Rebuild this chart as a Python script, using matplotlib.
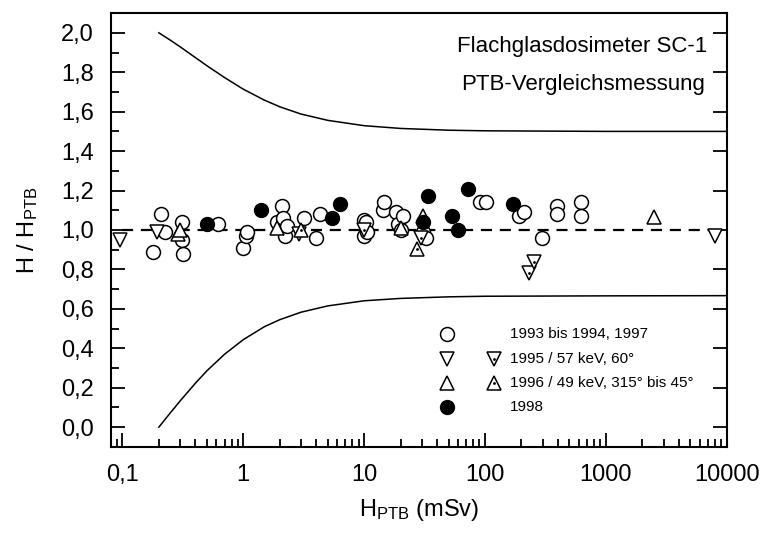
import matplotlib
matplotlib.use('Agg')
import matplotlib.pyplot as plt
from matplotlib.ticker import FixedLocator, MultipleLocator, FuncFormatter, LogLocator, NullFormatter

plt.rcParams['font.family'] = ['Liberation Sans', 'DejaVu Sans']
plt.rcParams['mathtext.fontset'] = 'custom'
plt.rcParams['mathtext.rm'] = 'Liberation Sans'
plt.rcParams['mathtext.default'] = 'regular'

# open circles: 1993 bis 1994, 1997
circ_x = [0.18, 0.21, 0.225, 0.31, 0.31, 0.32, 0.62, 1.0, 1.05, 1.07, 1.9, 2.1, 2.15, 2.2, 2.3,
          3.2, 4.0, 4.35, 10.0, 10.0, 10.3, 10.5, 14.3, 14.7, 18.4, 18.9, 20.8, 20.0, 30.5, 32.5,
          91, 101, 191, 210, 294, 395, 395, 617, 617]
circ_y = [0.89, 1.08, 0.99, 1.04, 0.95, 0.88, 1.03, 0.91, 0.97, 0.99, 1.04, 1.12, 1.06, 0.97, 1.02,
          1.06, 0.96, 1.08, 1.05, 0.97, 1.04, 0.99, 1.10, 1.14, 1.09, 1.03, 1.07, 1.00, 0.99, 0.96,
          1.14, 1.14, 1.07, 1.09, 0.96, 1.12, 1.08, 1.14, 1.07]

# 1995 / 57 keV, 60 deg (plain and dotted down triangles)
down_x = [0.095, 0.195, 8000]
down_y = [0.95, 0.99, 0.97]
down_dot_x = [2.9, 10.0, 29.5, 230, 254]
down_dot_y = [0.98, 1.00, 0.96, 0.78, 0.84]

# 1996 / 49 keV, 315 bis 45 deg (plain and dotted up triangles)
up_x = [0.29, 0.30, 1.9, 20.2, 2500]
up_y = [0.98, 1.00, 1.01, 1.01, 1.065]
up_dot_x = [3.0, 27.4, 30.5]
up_dot_y = [1.00, 0.905, 1.07]

# 1998 (filled circles)
fill_x = [0.5, 1.4, 5.4, 6.3, 30.5, 34, 53, 60, 72, 170]
fill_y = [1.03, 1.10, 1.06, 1.13, 1.04, 1.17, 1.07, 1.00, 1.21, 1.13]

# limit curves
lim_x = [0.2, 0.25, 0.3, 0.4, 0.5, 0.7, 1, 1.5, 2, 3, 5, 10, 20, 50, 100, 1000, 10000]
upper_y = [2.0, 1.962, 1.929, 1.875, 1.833, 1.773, 1.714, 1.658, 1.625, 1.588, 1.556, 1.529,
           1.515, 1.506, 1.503, 1.500, 1.500]
lower_y = [0.0, 0.074, 0.133, 0.222, 0.286, 0.370, 0.444, 0.510, 0.545, 0.583, 0.615, 0.641,
           0.653, 0.661, 0.664, 0.666, 0.667]
ref_x = [0.1, 10000]
ref_y = [1.0, 1.0]

fig = plt.figure(figsize=(7.69, 5.45), dpi=100)
ax = fig.add_axes([0.144, 0.180, 0.801, 0.796])

ax.plot(lim_x, upper_y, color='black', lw=1.1)
ax.plot(lim_x, lower_y, color='black', lw=1.1)
ax.plot(ref_x, ref_y, color='black', lw=1.6, dashes=(5, 3.5))

ms = 10
mew = 1.1
open_kw = dict(ls='none', mfc='white', mec='black', mew=mew, ms=ms)
ax.plot(circ_x, circ_y, marker='o', **open_kw)
ax.plot(down_x, down_y, marker='v', **open_kw)
ax.plot(down_dot_x, down_dot_y, marker='v', **open_kw)
ax.plot(down_dot_x, down_dot_y, marker='.', ls='none', color='black', ms=2)
ax.plot(up_x, up_y, marker='^', **open_kw)
ax.plot(up_dot_x, up_dot_y, marker='^', **open_kw)
ax.plot(up_dot_x, up_dot_y, marker='.', ls='none', color='black', ms=2)
ax.plot(fill_x, fill_y, marker='o', ls='none', color='black', ms=ms)

# legend drawn by hand
tr = ax.transAxes
c1, c2, tx = 0.546, 0.622, 0.648
rows = [0.26, 0.203, 0.147, 0.092]
labels = ['1993 bis 1994, 1997', '1995 / 57 keV, 60°', '1996 / 49 keV, 315° bis 45°', '1998']
ax.plot([c1], [rows[0]], marker='o', transform=tr, **open_kw)
ax.plot([c1], [rows[1]], marker='v', transform=tr, **open_kw)
ax.plot([c2], [rows[1]], marker='v', transform=tr, **open_kw)
ax.plot([c2], [rows[1]], marker='.', color='black', ms=2, transform=tr)
ax.plot([c1], [rows[2]], marker='^', transform=tr, **open_kw)
ax.plot([c2], [rows[2]], marker='^', transform=tr, **open_kw)
ax.plot([c2], [rows[2]], marker='.', color='black', ms=2, transform=tr)
ax.plot([c1], [rows[3]], marker='o', ls='none', color='black', ms=ms, transform=tr)
for r, lab in zip(rows, labels):
    ax.text(tx, r, lab, transform=tr, fontsize=11, va='center', ha='left')

ax.text(0.766, 0.924, 'Flachglasdosimeter SC-1', transform=tr, fontsize=16, ha='center', va='center')
ax.text(0.766, 0.836, 'PTB-Vergleichsmessung', transform=tr, fontsize=16, ha='center', va='center')

ax.set_xscale('log')
ax.set_xlim(0.08, 10000)
ax.set_ylim(-0.1, 2.1)

ax.xaxis.set_major_locator(FixedLocator([0.1, 1, 10, 100, 1000, 10000]))
ax.xaxis.set_major_formatter(FuncFormatter(lambda v, p: '0,1' if v < 0.5 else '%d' % v))
ax.xaxis.set_minor_locator(LogLocator(base=10, subs=range(2, 10), numticks=20))
ax.xaxis.set_minor_formatter(NullFormatter())
ax.yaxis.set_major_locator(FixedLocator([0.0, 0.2, 0.4, 0.6, 0.8, 1.0, 1.2, 1.4, 1.6, 1.8, 2.0]))
ax.yaxis.set_minor_locator(MultipleLocator(0.1))
ax.yaxis.set_major_formatter(FuncFormatter(lambda v, p: ('%.1f' % v).replace('.', ',')))

ax.tick_params(axis='both', which='both', direction='in', labelsize=17, width=1.3, pad=12)
ax.tick_params(axis='both', which='major', length=10)
ax.tick_params(axis='both', which='minor', length=5.5)
ax.tick_params(axis='x', top=False, bottom=True)
ax.tick_params(axis='y', left=True, right=True)
for s in ax.spines.values():
    s.set_linewidth(1.5)

ax.set_ylabel('H / H$_{PTB}$', fontsize=17)
ax.set_xlabel('H$_{PTB}$ (mSv)', fontsize=17)
ax.yaxis.set_label_coords(-0.115, 0.5)
ax.xaxis.set_label_coords(0.5, -0.115)

fig.savefig('out.png', dpi=100)
